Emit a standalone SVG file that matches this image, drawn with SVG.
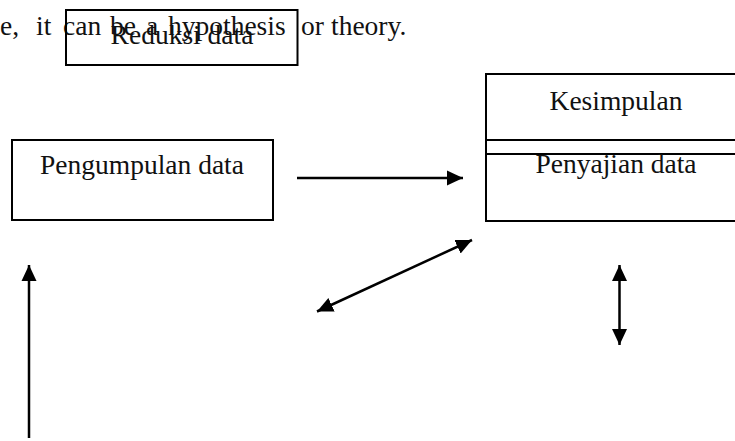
<svg xmlns="http://www.w3.org/2000/svg" width="735" height="441" viewBox="0 0 735 441">
<style>
.t{font-family:"Liberation Serif","Times New Roman",serif;font-size:27.5px;fill:#111}
.box{fill:none;stroke:#000;stroke-width:2}
.ln{stroke:#000;stroke-width:2.5;fill:none}
</style>
<defs>
<marker id="ah" markerUnits="userSpaceOnUse" markerWidth="17" markerHeight="17" viewBox="0 0 17 17" refX="16" refY="8.5" orient="auto-start-reverse">
<path d="M0,1 L16,8.5 L0,16 Z" fill="#000"/>
</marker>
</defs>
<rect width="735" height="441" fill="#fff"/>
<g id="background-text">
<text class="t" y="35"><tspan x="0">e,</tspan><tspan x="36">it</tspan><tspan x="63">can</tspan><tspan x="110">be</tspan><tspan x="146">a</tspan><tspan x="168">hypothesis</tspan><tspan x="301">or</tspan><tspan x="331">theory.</tspan></text>
</g>
<g id="reduksi">
<rect class="box" x="66" y="10" width="231.5" height="55"/>
<text class="t" x="182" y="44" text-anchor="middle">Reduksi data</text>
</g>
<g id="pengumpulan">
<rect class="box" x="12" y="140" width="261" height="80"/>
<text class="t" x="142" y="174" text-anchor="middle">Pengumpulan data</text>
</g>
<g id="kesimpulan">
<rect class="box" x="486" y="74" width="260" height="80"/>
<text class="t" x="616" y="110" text-anchor="middle">Kesimpulan</text>
</g>
<g id="penyajian">
<rect class="box" x="486" y="140" width="260" height="81"/>
<text class="t" x="616" y="173" text-anchor="middle">Penyajian data</text>
</g>
<g id="connectors">
<line class="ln" x1="297" y1="178" x2="463" y2="178" marker-end="url(#ah)"/>
<line class="ln" x1="317" y1="311.5" x2="472" y2="240" marker-start="url(#ah)" marker-end="url(#ah)"/>
<line class="ln" x1="619.5" y1="265" x2="619.5" y2="345" marker-start="url(#ah)" marker-end="url(#ah)"/>
<line class="ln" x1="29" y1="438" x2="29" y2="265" marker-end="url(#ah)"/>
</g>
</svg>
